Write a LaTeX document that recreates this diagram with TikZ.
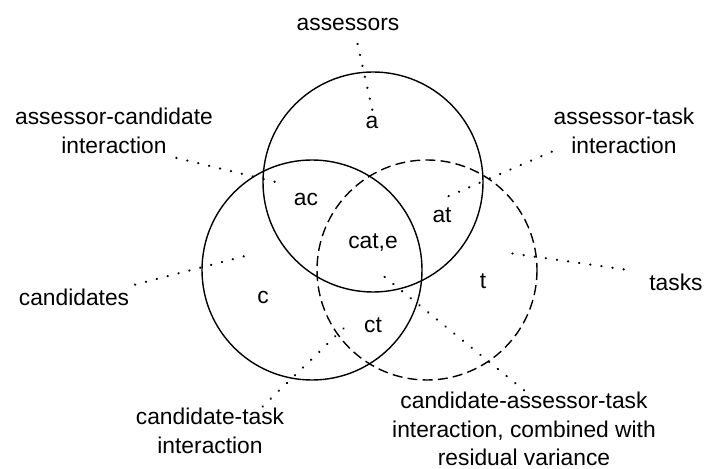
\documentclass[tikz,border=0pt]{standalone}
\usepackage{fontspec}
\setmainfont{Liberation Sans}
\usetikzlibrary{
  calc,
}
\tikzset{
  x = 0.5pt,
  y = -0.5pt,
  set/.style={draw, line width=0.7pt},
  dset/.style={set, dash pattern=on 5pt off 2.6pt},
  lbl/.style={
    align=center, inner sep=1pt, outer sep=0pt,
    font=\fontsize{11.4}{14.2}\selectfont,
  },
  leader/.style={line width=1.25pt, line cap=round, dash pattern=on 0.01pt off 5.6pt},
}

\begin{document}
\begin{tikzpicture}
  \useasboundingbox (0,0) rectangle (704,469);
  %%
  \path[set] (373,182) circle[radius=110];
  \path[set] (312,270) circle[radius=110];
  \path[dset] (427,270) circle[radius=110];
  %%
  \node[lbl](a) at (372,122){a};
  \node[lbl](ac) at (306,199){ac};
  \node[lbl](at) at (442,215){at};
  \node[lbl](cat) at (373,243){cat,e};
  \node[lbl](c) at (263,297){c};
  \node[lbl](ct) at (373,325){ct};
  \node[lbl](t) at (483,281){t};
  %%
  \node[lbl](Ass) at (348,24){assessors};
  \node[lbl](AssCand) at (114,131){assessor-candidate\\interaction};
  \node[lbl](AssTask) at (624,131){assessor-task\\interaction};
  \node[lbl](Cand) at (74,297){candidates};
  \node[lbl](CandTask) at (210,431){candidate-task\\interaction};
  \node[lbl](CandAssTask) at (524,429){candidate-assessor-task\\interaction, combined with\\residual variance};
  \node[lbl](Task) at (676,282){tasks};
  %%
  \coordinate (pa) at (373,113);
  \coordinate (pac) at (280,183);
  \coordinate (pat) at (442,199);
  \coordinate (pc) at (253,254);
  \coordinate (pct) at (347,325);
  \coordinate (pcat) at (376,270);
  \coordinate (pt) at (509,253);
  %%
  \draw[leader, shorten <=6pt](Ass.-50) -- (pa);
  \draw[leader, shorten <=5pt](AssCand.-25) -- (pac);
  \draw[leader](AssTask.-164) -- (pat);
  \draw[leader, shorten <=4pt](Cand.11) -- (pc);
  \draw[leader](CandTask.25) -- (pct);
  \draw[leader](CandAssTask.north) -- (pcat);
  \draw[leader, shorten <=12pt](Task.162) -- (pt);
\end{tikzpicture}
\end{document}
